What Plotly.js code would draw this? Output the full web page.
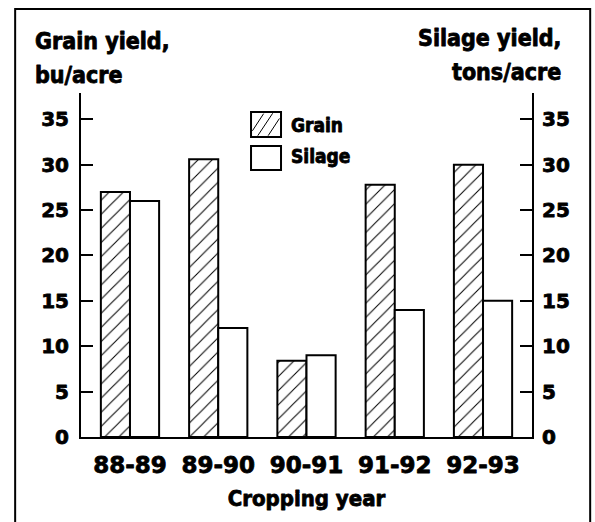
<!DOCTYPE html>
<html>
<head>
<meta charset="utf-8">
<script src="https://cdn.plot.ly/plotly-3.0.1.min.js"></script>
<style>
html,body{margin:0;padding:0;background:#fff;}
#chart{width:595px;height:522px;}
#chart text{stroke:#000;stroke-width:0.8px;stroke-linejoin:round;}
</style>
</head>
<body>
<div id="chart"></div>
<script>
const years = ["88-89", "89-90", "90-91", "91-92", "92-93"];
const grainYield = [27, 30.6, 8.4, 27.8, 30];
const silageYield = [26, 12, 9, 14, 15];
const yTicks = [0, 5, 10, 15, 20, 25, 30, 35];

const tickFont = {family: "DejaVu Sans", size: 20, color: "#000", weight: "bold"};
const textFont = {family: "DejaVu Sans Condensed, DejaVu Sans", size: 23, color: "#000", weight: "bold"};

const grain = {
  type: "bar", name: "Grain", x: years, y: grainYield, yaxis: "y",
  width: 0.33, offset: -0.33,
  marker: {color: "#fff", line: {color: "#000", width: 2},
    pattern: {shape: "/", size: 10, solidity: 0.1, fgcolor: "#000", bgcolor: "#fff"}},
  showlegend: false, hoverinfo: "x+y"
};
const silage = {
  type: "bar", name: "Silage", x: years, y: silageYield, yaxis: "y2",
  width: 0.33, offset: 0,
  marker: {color: "#fff", line: {color: "#000", width: 2}},
  showlegend: false, hoverinfo: "x+y"
};

const yRange = [0, 37.9];
const layout = {
  width: 595, height: 522,
  margin: {l: 81, r: 63, t: 93, b: 85},
  paper_bgcolor: "#fff", plot_bgcolor: "#fff",
  font: tickFont,
  xaxis: {
    type: "category", range: [-0.555, 4.555],
    showline: true, linecolor: "#000", linewidth: 2, mirror: false,
    showgrid: false, zeroline: false, ticks: "",
    tickfont: {family: "DejaVu Sans", size: 23, color: "#000", weight: "bold"},
    ticklabelstandoff: 6,
    title: {text: "Cropping year", font: {family: "DejaVu Sans Condensed, DejaVu Sans", size: 22, color: "#000", weight: "bold"}, standoff: 14}
  },
  yaxis: {
    range: yRange, tickvals: yTicks, ticktext: yTicks.map(String),
    showline: true, linecolor: "#000", linewidth: 2,
    showgrid: false, zeroline: false,
    ticks: "inside", ticklen: 12, tickwidth: 2, tickcolor: "#000",
    tickfont: tickFont, ticklabelstandoff: 6
  },
  yaxis2: {
    range: yRange, tickvals: yTicks, ticktext: yTicks.map(String),
    overlaying: "y", side: "right",
    showline: true, linecolor: "#000", linewidth: 2,
    showgrid: false, zeroline: false,
    ticks: "inside", ticklen: 12, tickwidth: 2, tickcolor: "#000",
    tickfont: tickFont, ticklabelstandoff: 4
  },
  shapes: [
    {type: "rect", xref: "paper", yref: "paper", x0: -0.146, x1: 1.129, y0: -0.26, y1: 1.244,
     line: {color: "#000", width: 2}, fillcolor: "rgba(0,0,0,0)"},
    {type: "rect", xref: "paper", yref: "paper", x0: 0.377, x1: 0.4435, y0: 0.872, y1: 0.945,
     line: {color: "#000", width: 2}, fillcolor: "#fff"},
    {type: "line", xref: "paper", yref: "paper", x0: 0.380, y0: 0.890, x1: 0.405, y1: 0.940, line: {color: "#000", width: 1}},
    {type: "line", xref: "paper", yref: "paper", x0: 0.392, y0: 0.876, x1: 0.425, y1: 0.941, line: {color: "#000", width: 1}},
    {type: "line", xref: "paper", yref: "paper", x0: 0.415, y0: 0.876, x1: 0.440, y1: 0.926, line: {color: "#000", width: 1}},
    {type: "rect", xref: "paper", yref: "paper", x0: 0.377, x1: 0.4435, y0: 0.776, y1: 0.846,
     line: {color: "#000", width: 2}, fillcolor: "#fff"}
  ],
  annotations: [
    {text: "Grain yield,", xref: "paper", yref: "paper", x: -0.106, y: 1.151, xanchor: "left", yanchor: "middle", showarrow: false, font: textFont},
    {text: "bu/acre", xref: "paper", yref: "paper", x: -0.106, y: 1.052, xanchor: "left", yanchor: "middle", showarrow: false, font: textFont},
    {text: "Silage yield,", xref: "paper", yref: "paper", x: 1.069, y: 1.160, xanchor: "right", yanchor: "middle", showarrow: false, font: textFont},
    {text: "tons/acre", xref: "paper", yref: "paper", x: 1.069, y: 1.061, xanchor: "right", yanchor: "middle", showarrow: false, font: textFont},
    {text: "Grain", xref: "paper", yref: "paper", x: 0.461, y: 0.907, xanchor: "left", yanchor: "middle", showarrow: false,
     font: {family: "DejaVu Sans Condensed, DejaVu Sans", size: 19, color: "#000", weight: "bold"}},
    {text: "Silage", xref: "paper", yref: "paper", x: 0.461, y: 0.817, xanchor: "left", yanchor: "middle", showarrow: false,
     font: {family: "DejaVu Sans Condensed, DejaVu Sans", size: 19, color: "#000", weight: "bold"}}
  ]
};

Plotly.newPlot("chart", [grain, silage], layout, {displayModeBar: false, staticPlot: true});
</script>
</body>
</html>
